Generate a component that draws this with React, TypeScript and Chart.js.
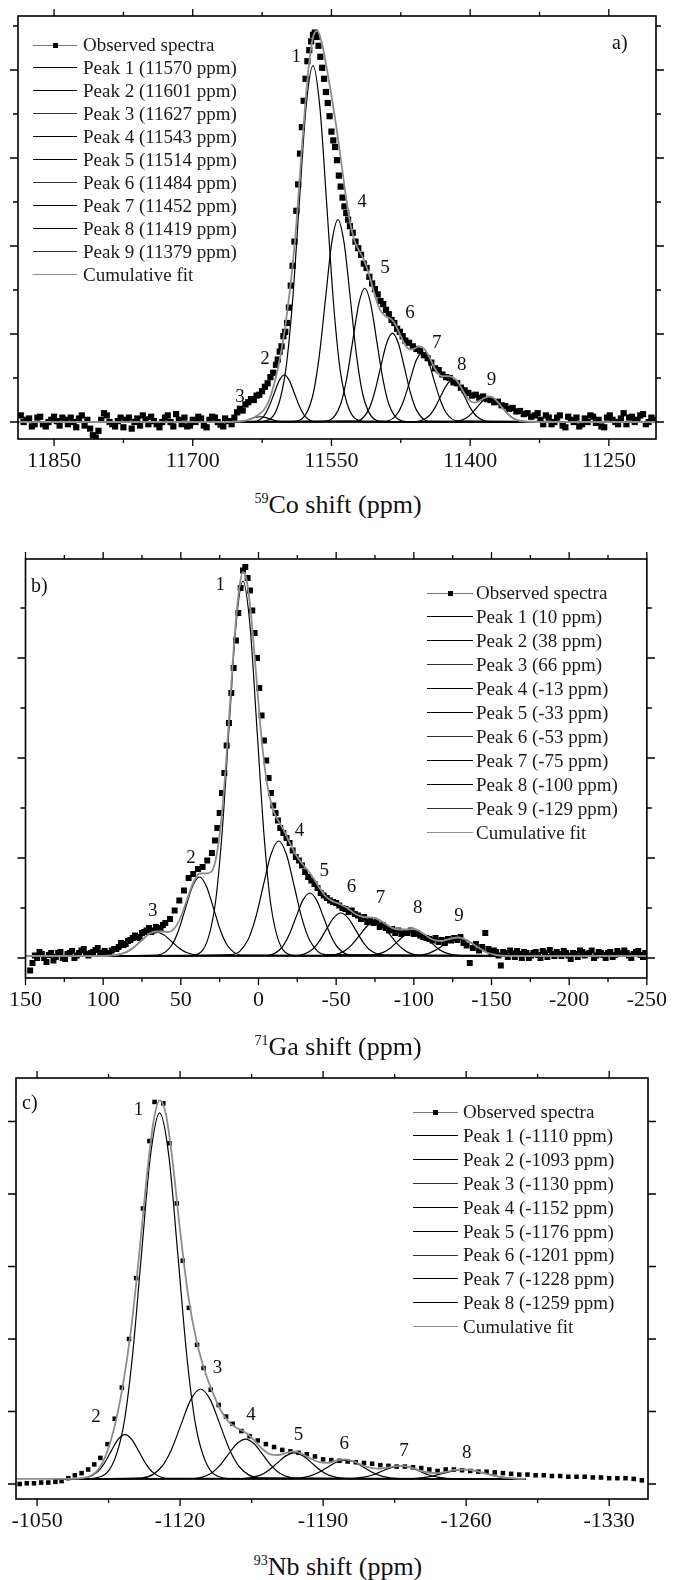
import React, { useEffect, useRef } from "react";
import { Chart, registerables } from "chart.js";

Chart.register(...registerables);

type Pt = [number, number];
type Lbl = [string, number, number];
const SERIF = '"Liberation Serif", "Times New Roman", "DejaVu Serif", serif';

// ===================== Panel a (59Co) =====================
const xTicksA = [11850, 11700, 11550, 11400, 11250];
const xMinorA = [11775, 11625, 11475, 11325];
const yMajorA = [0, 2, 4, 6, 8];
const yMinorA = [1, 3, 5, 7, 9];
const peakPpmA = [11570, 11601, 11627, 11543, 11514, 11484, 11452, 11419, 11379];
const fitRangeA: Pt = [11199, 11889];

const observedA: Pt[] = [
  [11886,0.15],[11880,0.05],[11874,-0.1],[11868,0.1],[11862,-0.05],[11856,0.0],[11850,0.12],[11844,-0.08],[11838,0.05],[11832,0.1],
  [11826,-0.12],[11820,0.15],[11814,0.05],[11808,-0.3],[11802,-0.2],[11796,0.2],[11790,0.0],[11784,-0.1],[11778,0.1],[11772,0.05],
  [11766,-0.15],[11760,0.08],[11754,0.15],[11748,-0.05],[11742,0.02],[11736,-0.12],[11730,0.1],[11724,0.0],[11718,0.18],[11712,-0.05],
  [11706,-0.1],[11700,0.05],[11694,0.12],[11688,-0.08],[11682,0.05],[11676,0.1],[11670,-0.06],[11665,0.08],
  [11883,0.0],[11877,0.08],[11871,-0.05],[11865,0.12],[11859,-0.1],[11853,0.05],[11847,0.02],[11841,0.1],[11835,-0.05],[11829,0.0],
  [11823,0.08],[11817,-0.08],[11811,-0.15],[11805,-0.35],[11799,0.05],[11793,0.15],[11787,-0.05],[11781,0.02],[11775,-0.12],[11769,0.1],
  [11763,0.0],[11757,-0.08],[11751,0.06],[11745,0.12],[11739,-0.05],[11733,0.0],[11727,0.15],[11721,-0.1],[11715,0.05],[11709,0.1],
  [11703,-0.08],[11697,0.0],[11691,0.08],[11685,-0.12],[11679,0.12],[11673,0.0],[11667,-0.1],
  [11661,0.02],[11658,-0.05],[11655,0.1],[11652,0.22],[11649,0.3],[11646,0.26],[11643,0.4],[11640,0.45],[11637,0.52],[11634,0.5],
  [11631,0.6],[11628,0.62],[11625,0.7],[11622,0.8],[11619,0.88],[11616,1.02],[11613,1.12],[11610,1.3],[11608,1.42],[11606,1.6],
  [11604,1.72],[11602,1.95],[11600,2.05],[11598,2.25],[11596,2.6],[11594,3.1],[11592,3.55],[11590,4.1],[11588,4.8],[11586,5.4],
  [11584,6.1],[11582,6.7],[11580,7.3],[11578,7.8],[11576,8.2],[11574,8.45],[11572,8.65],[11570,8.8],[11568,8.85],[11566,8.75],
  [11564,8.55],[11562,8.3],[11560,8.05],[11558,7.8],[11556,7.5],[11554,7.25],[11552,6.95],[11550,6.6],[11548,6.4],[11546,6.25],
  [11544,5.95],[11542,5.6],[11540,5.35],[11538,5.1],[11536,4.9],[11534,4.75],[11532,4.6],[11530,4.45],
  [11527,4.3],[11524,4.1],[11521,3.95],[11518,3.8],[11515,3.6],[11512,3.5],[11509,3.3],[11506,3.15],[11503,3.02],[11500,2.9],
  [11497,2.75],[11494,2.68],[11491,2.55],[11488,2.45],[11485,2.32],[11482,2.25],[11479,2.12],[11476,2.05],[11473,1.95],[11470,1.85],
  [11466,1.8],[11462,1.72],[11458,1.66],[11454,1.62],[11450,1.52],[11446,1.45],[11442,1.35],[11438,1.22],[11434,1.18],[11430,1.08],
  [11426,1.02],[11422,1.0],[11418,0.9],[11414,0.88],[11410,0.78],[11406,0.72],[11402,0.66],[11398,0.6],[11394,0.62],[11390,0.55],
  [11386,0.58],[11382,0.52],[11378,0.5],[11374,0.45],[11370,0.46],[11366,0.38],[11362,0.36],[11358,0.3],[11354,0.32],[11350,0.24],
  [11346,0.25],[11342,0.18],[11338,0.2],[11334,0.12],[11330,0.15],
  [11324,0.05],[11318,0.15],[11312,-0.05],[11306,0.1],[11300,-0.08],[11294,0.12],[11288,0.0],[11282,-0.1],[11276,0.08],[11270,0.15],
  [11264,-0.02],[11258,-0.1],[11252,0.1],[11246,0.05],[11240,-0.05],[11234,0.2],[11228,0.1],[11222,0.0],[11216,0.15],[11210,-0.05],[11204,0.1],
  [11327,0.2],[11321,-0.05],[11315,0.1],[11309,0.0],[11303,0.15],[11297,-0.12],[11291,0.05],[11285,0.1],[11279,-0.05],[11273,0.0],
  [11267,0.12],[11261,0.05],[11255,-0.12],[11249,0.15],[11243,0.0],[11237,0.08],[11231,-0.05],[11225,0.12],[11219,0.05],[11213,0.18],
  [11207,0.0],[11201,0.05],
];

const cumulativeA: Pt[] = [
  [11889,0],[11680,0],[11660,0],[11650,0.01],[11640,0.05],[11630,0.15],[11620,0.37],[11610,1.03],[11600,2.17],[11590,3.99],
  [11580,6.77],[11575,8.0],[11570,8.74],[11565,8.89],[11560,8.58],[11555,8.03],[11550,7.42],[11545,6.75],[11540,6.0],[11535,5.22],
  [11530,4.55],[11525,4.12],[11520,3.89],[11515,3.69],[11510,3.4],[11505,3.03],[11500,2.68],[11495,2.47],[11490,2.39],[11485,2.33],
  [11480,2.18],[11475,1.95],[11470,1.74],[11465,1.65],[11460,1.67],[11455,1.72],[11450,1.67],[11445,1.51],[11440,1.29],[11435,1.11],
  [11430,1.04],[11425,1.04],[11420,1.03],[11415,0.95],[11410,0.79],[11405,0.61],[11400,0.48],[11395,0.44],[11390,0.48],[11385,0.54],
  [11380,0.58],[11375,0.55],[11370,0.45],[11365,0.32],[11360,0.2],[11355,0.1],[11350,0.05],[11340,0.01],[11330,0],[11199,0],
];

const peak1A: Pt[] = [[11510,0],[11525,0.09],[11540,1.1],[11547.5,2.63],[11555,4.91],[11562.5,7.15],[11570,8.1],[11577.5,7.15],[11585,4.91],[11592.5,2.63],[11600,1.1],[11615,0.09],[11630,0]];
const peak2A: Pt[] = [[11568,0.01],[11579,0.14],[11584.5,0.35],[11590,0.65],[11595.5,0.94],[11601,1.07],[11606.5,0.94],[11612,0.65],[11617.5,0.35],[11623,0.14],[11634,0.01]];
const peak3A: Pt[] = [[11597,0],[11607,0.016],[11612,0.039],[11617,0.073],[11622,0.106],[11627,0.12],[11632,0.106],[11637,0.073],[11642,0.039],[11647,0.016],[11657,0]];
const peak4A: Pt[] = [[11489,0],[11502.5,0.05],[11516,0.62],[11522.75,1.49],[11529.5,2.79],[11536.25,4.06],[11543,4.6],[11549.75,4.06],[11556.5,2.79],[11563.25,1.49],[11570,0.62],[11583.5,0.05],[11597,0]];
const peak5A: Pt[] = [[11462,0],[11475,0.03],[11488,0.41],[11494.5,0.99],[11501,1.84],[11507.5,2.68],[11514,3.04],[11520.5,2.68],[11527,1.84],[11533.5,0.99],[11540,0.41],[11553,0.03],[11566,0]];
const peak6A: Pt[] = [[11445,0.02],[11458,0.27],[11464.5,0.66],[11471,1.23],[11477.5,1.78],[11484,2.02],[11490.5,1.78],[11497,1.23],[11503.5,0.66],[11510,0.27],[11523,0.02]];
const peak7A: Pt[] = [[11413,0.02],[11426,0.21],[11432.5,0.51],[11439,0.95],[11445.5,1.39],[11452,1.57],[11458.5,1.39],[11465,0.95],[11471.5,0.51],[11478,0.21],[11491,0.02]];
const peak8A: Pt[] = [[11380,0.01],[11393,0.13],[11399.5,0.31],[11406,0.58],[11412.5,0.84],[11419,0.95],[11425.5,0.84],[11432,0.58],[11438.5,0.31],[11445,0.13],[11458,0.01]];
const peak9A: Pt[] = [[11340,0.01],[11353,0.08],[11359.5,0.19],[11366,0.35],[11372.5,0.5],[11379,0.57],[11385.5,0.5],[11392,0.35],[11398.5,0.19],[11405,0.08],[11418,0.01]];

const peakLabelsA: Lbl[] = [["1",11588,8.3],["2",11622,1.43],["3",11649,0.57],["4",11517,5.0],["5",11492,3.5],["6",11465,2.47],["7",11436,1.8],["8",11409,1.3],["9",11377,0.95]];

// ===================== Panel b (71Ga) =====================
const xTicksB = [150, 100, 50, 0, -50, -100, -150, -200, -250];
const xMinorB = [125, 75, 25, -25, -75, -125, -175, -225];
const yMajorB = [0, 2, 4, 6];
const yMinorB = [1, 3, 5, 7];
const peakPpmB = [10, 38, 66, -13, -33, -53, -75, -100, -129];
const fitRangeB: Pt = [-250, 150];
const baseB = 0.04;

const observedB: Pt[] = [
  [149,-0.45],[147,-0.25],[144,0.05],[141,0.12],[138,0.0],[135,0.06],[132,-0.05],[129,0.1],[126,0.0],[123,0.08],
  [120,0.14],[117,0.05],[114,0.15],[111,0.08],[108,0.1],[105,0.16],[102,0.08],[99,0.14],[96,0.1],[93,0.18],
  [145.5,-0.1],[142.5,0.0],[139.5,0.08],[136.5,-0.08],[133.5,0.1],[130.5,0.02],[127.5,0.12],[124.5,-0.02],[121.5,0.1],[118.5,0.0],
  [115.5,0.1],[112.5,0.18],[109.5,0.05],[106.5,0.12],[103.5,0.2],[100.5,0.1],[97.5,0.08],[94.5,0.15],[91.5,0.18],[88.5,0.3],
  [85.5,0.28],[82.5,0.36],[79.5,0.45],[76.5,0.4],[73.5,0.52],[70.5,0.6],[67.5,0.55],[64.5,0.58],[61.5,0.66],
  [90,0.22],[87,0.26],[84,0.34],[81,0.4],[78,0.42],[75,0.5],[72,0.55],[69,0.52],[66,0.62],[63,0.6],
  [60,0.7],[57,0.78],[54,0.95],[51,1.15],[48,1.35],[45,1.6],[42,1.68],[39,1.78],[36,1.82],[33,1.95],[30,2.1],
  [28,2.35],[26.5,2.6],[25,2.9],[23.5,3.3],[22,3.7],[20.5,4.25],[19,4.7],[17.5,5.3],[16,5.8],[14.5,6.35],
  [13,6.9],[11.5,7.4],[10,7.75],[8.5,7.82],[7,7.6],[5.5,7.35],[4,6.95],[2.5,6.5],[1,6.0],[-0.5,5.4],
  [-2,4.85],[-3.5,4.35],[-5,3.95],[-6.5,3.6],[-8,3.3],[-9.5,3.05],[-11,2.9],[-12.5,2.75],
  [-14,2.6],[-16,2.5],[-18,2.4],[-20,2.3],[-22,2.15],[-24,2.02],[-26,1.95],[-28,1.85],[-30,1.72],[-32,1.62],
  [-34,1.55],[-36,1.48],[-38,1.4],[-40,1.3],[-42,1.25],[-44,1.2],[-46,1.15],[-48,1.12],[-50,1.1],[-52,1.05],
  [-54,1.0],[-56,0.98],[-58,0.92],[-60,0.95],[-62,0.88],[-64,0.85],[-66,0.78],[-68,0.82],[-70,0.72],[-72,0.75],
  [-74,0.7],[-76,0.72],[-78,0.62],[-80,0.66],[-82,0.6],[-84,0.55],[-86,0.58],[-88,0.5],[-90,0.55],[-92,0.48],
  [-94,0.52],[-96,0.5],[-98,0.55],[-100,0.48],[-102,0.5],[-104,0.45],[-106,0.42],[-108,0.4],[-110,0.38],[-112,0.35],
  [-114,0.4],[-116,0.32],[-118,0.36],[-120,0.3],[-122,0.38],[-124,0.35],[-126,0.4],[-128,0.36],[-130,0.42],[-132,0.3],
  [-134,0.25],[-136,-0.1],[-138,0.2],[-140,0.28],[-142,0.15],[-144,0.22],[-146,0.5],[-148,0.18],[-150,0.08],
  [-153,0.12],[-156,-0.15],[-159,0.1],[-162,0.15],[-165,0.02],[-168,0.08],[-171,0.12],[-174,0.0],[-177,0.1],[-180,0.06],
  [-183,0.14],[-186,0.02],[-189,0.08],[-192,0.12],[-195,0.04],[-198,0.1],[-201,-0.02],[-204,0.08],[-207,0.15],[-210,0.05],
  [-213,0.1],[-216,0.0],[-219,0.12],[-222,0.06],[-225,0.1],[-228,0.02],[-231,0.14],[-234,0.08],[-237,0.1],[-240,0.0],
  [-243,0.12],[-246,0.06],[-249,0.1],
  [-151.5,0.15],[-154.5,0.05],[-157.5,0.12],[-160.5,0.02],[-163.5,0.1],[-166.5,0.14],[-169.5,0.0],[-172.5,0.1],[-175.5,0.05],[-178.5,0.12],
  [-181.5,0.0],[-184.5,0.1],[-187.5,0.16],[-190.5,0.04],[-193.5,0.08],[-196.5,0.14],[-199.5,0.05],[-202.5,0.1],[-205.5,0.02],[-208.5,0.12],
  [-211.5,0.08],[-214.5,0.15],[-217.5,0.05],[-220.5,0.1],[-223.5,0.0],[-226.5,0.12],[-229.5,0.06],[-232.5,0.1],[-235.5,0.15],[-238.5,0.05],
  [-241.5,0.08],[-244.5,0.14],[-247.5,0.02],
];

const cumulativeB: Pt[] = [
  [150,0.04],[100,0.04],[95,0.05],[90,0.07],[85,0.12],[80,0.22],[75,0.36],[70,0.49],[66,0.53],[62,0.53],
  [58,0.52],[54,0.6],[50,0.82],[46,1.17],[42,1.51],[38,1.69],[34,1.69],[30,1.74],[27,2.05],[24,2.75],
  [21,3.86],[18,5.25],[15,6.58],[12,7.48],[10,7.72],[8,7.61],[5,6.93],[2,5.85],[-1,4.71],[-4,3.81],
  [-7,3.24],[-10,2.92],[-13,2.73],[-16,2.57],[-20,2.31],[-24,2.07],[-28,1.89],[-33,1.7],[-38,1.47],[-43,1.24],
  [-48,1.13],[-53,1.07],[-58,0.98],[-63,0.87],[-68,0.82],[-75,0.8],[-82,0.68],[-88,0.58],[-94,0.57],[-100,0.58],
  [-106,0.49],[-112,0.37],[-118,0.34],[-124,0.39],[-129,0.41],[-135,0.34],[-141,0.22],[-147,0.11],[-153,0.06],[-160,0.04],[-250,0.04],
];

const peak1B: Pt[] = [[-26,0.04],[-17,0.12],[-8,1.05],[-3.5,2.48],[1,4.59],[5.5,6.66],[10,7.54],[14.5,6.66],[19,4.59],[23.5,2.48],[28,1.05],[37,0.12],[46,0.04]];
const peak2B: Pt[] = [[11,0.06],[20,0.25],[24.5,0.55],[29,1.0],[33.5,1.43],[38,1.62],[42.5,1.43],[47,1.0],[51.5,0.55],[56,0.25],[65,0.06]];
const peak3B: Pt[] = [[36,0.045],[46,0.105],[51,0.196],[56,0.331],[61,0.464],[66,0.52],[71,0.464],[76,0.331],[81,0.196],[86,0.105],[96,0.045]];
const peak4B: Pt[] = [[-43,0.066],[-33,0.351],[-28,0.787],[-23,1.435],[-18,2.07],[-13,2.34],[-8,2.07],[-3,1.435],[2,0.787],[7,0.351],[17,0.066]];
const peak5B: Pt[] = [[-60,0.054],[-51,0.21],[-46.5,0.449],[-42,0.804],[-37.5,1.152],[-33,1.3],[-28.5,1.152],[-24,0.804],[-19.5,0.449],[-15,0.21],[-6,0.054]];
const peak6B: Pt[] = [[-81.5,0.05],[-72,0.156],[-67.25,0.319],[-62.5,0.562],[-57.75,0.799],[-53,0.9],[-48.25,0.799],[-43.5,0.562],[-38.75,0.319],[-34,0.156],[-24.5,0.05]];
const peak7B: Pt[] = [[-105,0.048],[-95,0.132],[-90,0.261],[-85,0.452],[-80,0.64],[-75,0.72],[-70,0.64],[-65,0.452],[-60,0.261],[-55,0.132],[-45,0.048]];
const peak8B: Pt[] = [[-130,0.046],[-120,0.108],[-115,0.202],[-110,0.343],[-105,0.481],[-100,0.54],[-95,0.481],[-90,0.343],[-85,0.202],[-80,0.108],[-70,0.046]];
const peak9B: Pt[] = [[-159,0.044],[-149,0.089],[-144,0.157],[-139,0.258],[-134,0.358],[-129,0.4],[-124,0.358],[-119,0.258],[-114,0.157],[-109,0.089],[-99,0.044]];

const peakLabelsB: Lbl[] = [["1",24.7,7.46],["2",43.5,2.0],["3",68,0.93],["4",-26.4,2.53],["5",-42.3,1.73],["6",-59.8,1.42],["7",-78.5,1.2],["8",-102.5,1.0],["9",-129,0.83]];

// ===================== Panel c (93Nb) =====================
const xTicksC = [-1050, -1120, -1190, -1260, -1330];
const xMinorC = [-1085, -1155, -1225, -1295];
const yMajorC = [0, 1, 2, 3, 4, 5];
const yMinorC: number[] = [];
const peakPpmC = [-1110, -1093, -1130, -1152, -1176, -1201, -1228, -1259];
const fitRangeC: Pt = [-1289, -1058];
const baseC = 0.07;

const observedC: Pt[] = [
  [-1041.5,0.0],[-1045,0.01],[-1048.5,0.01],[-1052,0.02],[-1055.5,0.02],[-1059,0.03],[-1062,0.04],[-1065.3,0.08],[-1068.5,0.12],[-1071.8,0.15],
  [-1075,0.2],[-1078,0.27],[-1081,0.36],[-1084.5,0.55],[-1088,0.9],[-1091.5,1.33],[-1095,2.0],[-1098.5,2.84],[-1101.8,3.8],[-1105,4.73],
  [-1107.5,5.27],[-1111.8,5.25],[-1114.8,4.7],[-1118.4,3.87],[-1121.3,3.08],[-1124.3,2.43],[-1128.3,1.92],[-1131.5,1.6],[-1135,1.3],[-1138.9,1.09],
  [-1142.5,0.93],[-1145.7,0.83],[-1150,0.73],[-1154,0.66],[-1158,0.6],[-1162,0.55],[-1166,0.51],[-1170,0.47],[-1174,0.45],[-1178,0.43],
  [-1182,0.41],[-1186,0.38],[-1190,0.34],[-1194,0.33],[-1198,0.32],[-1202,0.31],[-1206,0.3],[-1210,0.29],[-1214,0.28],[-1218,0.26],
  [-1222,0.25],[-1226,0.24],[-1230,0.24],[-1234,0.23],[-1238,0.22],[-1242,0.2],[-1246,0.18],[-1250,0.2],[-1254,0.2],[-1258,0.19],
  [-1262,0.18],[-1266,0.17],[-1270,0.17],[-1274,0.16],[-1278,0.15],[-1282,0.14],[-1286,0.13],[-1290,0.13],[-1294,0.12],[-1298,0.12],
  [-1302,0.11],[-1306,0.11],[-1310,0.1],[-1314,0.1],[-1318,0.1],[-1322,0.09],[-1326,0.09],[-1330,0.08],[-1334,0.08],[-1338,0.08],
  [-1342,0.07],[-1346,0.05],
];

const cumulativeC: Pt[] = [
  [-1040,0.07],[-1060,0.07],[-1068,0.07],[-1072,0.08],[-1076,0.11],[-1080,0.2],[-1084,0.42],[-1088,0.8],[-1092,1.36],[-1096,2.13],
  [-1100,3.17],[-1104,4.32],[-1107,5.0],[-1110,5.29],[-1113,5.11],[-1116,4.53],[-1120,3.5],[-1124,2.59],[-1128,1.98],[-1132,1.57],
  [-1136,1.26],[-1140,1.01],[-1144,0.85],[-1148,0.77],[-1152,0.71],[-1156,0.61],[-1160,0.49],[-1164,0.41],[-1168,0.4],[-1172,0.43],
  [-1176,0.45],[-1180,0.41],[-1184,0.35],[-1188,0.3],[-1192,0.29],[-1196,0.32],[-1201,0.34],[-1206,0.3],[-1210,0.25],[-1214,0.22],
  [-1218,0.21],[-1222,0.23],[-1228,0.25],[-1234,0.22],[-1238,0.18],[-1242,0.155],[-1246,0.15],[-1250,0.166],[-1254,0.19],[-1259,0.2],
  [-1264,0.185],[-1268,0.157],[-1272,0.126],[-1276,0.1],[-1280,0.084],[-1284,0.076],[-1289,0.071],
];

const peak1C: Pt[] = [[-1146,0.07],[-1137,0.126],[-1128,0.753],[-1123.5,1.71],[-1119,3.133],[-1114.5,4.527],[-1110,5.12],[-1105.5,4.527],[-1101,3.133],[-1096.5,1.71],[-1092,0.753],[-1083,0.126],[-1074,0.07]];
const peak2C: Pt[] = [[-1114,0.077],[-1107,0.153],[-1103.5,0.268],[-1100,0.44],[-1096.5,0.608],[-1093,0.68],[-1089.5,0.608],[-1086,0.44],[-1082.5,0.268],[-1079,0.153],[-1072,0.077]];
const peak3C: Pt[] = [[-1158.5,0.084],[-1149,0.238],[-1144.25,0.473],[-1139.5,0.822],[-1134.75,1.164],[-1130,1.31],[-1125.25,1.164],[-1120.5,0.822],[-1115.75,0.473],[-1111,0.238],[-1101.5,0.084]];
const peak4C: Pt[] = [[-1177.5,0.076],[-1169,0.144],[-1164.75,0.249],[-1160.5,0.404],[-1156.25,0.555],[-1152,0.62],[-1147.75,0.555],[-1143.5,0.404],[-1139.25,0.249],[-1135,0.144],[-1126.5,0.076]];
const peak5C: Pt[] = [[-1201.5,0.074],[-1193,0.119],[-1188.75,0.187],[-1184.5,0.288],[-1180.25,0.388],[-1176,0.43],[-1171.75,0.388],[-1167.5,0.288],[-1163.25,0.187],[-1159,0.119],[-1150.5,0.074]];
const peak6C: Pt[] = [[-1228,0.073],[-1219,0.105],[-1214.5,0.154],[-1210,0.228],[-1205.5,0.299],[-1201,0.33],[-1196.5,0.299],[-1192,0.228],[-1187.5,0.154],[-1183,0.105],[-1174,0.073]];
const peak7C: Pt[] = [[-1255,0.072],[-1246,0.094],[-1241.5,0.128],[-1237,0.179],[-1232.5,0.229],[-1228,0.25],[-1223.5,0.229],[-1219,0.179],[-1214.5,0.128],[-1210,0.094],[-1201,0.072]];
const peak8C: Pt[] = [[-1289,0.071],[-1279,0.088],[-1274,0.112],[-1269,0.149],[-1264,0.185],[-1259,0.2],[-1254,0.185],[-1249,0.149],[-1244,0.112],[-1239,0.088],[-1229,0.071]];

const peakLabelsC: Lbl[] = [["1",-1099.6,5.16],["2",-1078.9,0.93],["3",-1138.3,1.6],["4",-1154.7,0.95],["5",-1178,0.68],["6",-1200.3,0.55],["7",-1229.6,0.45],["8",-1260.3,0.43]];

// ===================== Panel configuration (layout) =====================
interface PanelCfg {
  id: string;
  canvasTop: number;
  canvasHeight: number;
  pad: { left: number; right: number; top: number; bottom: number };
  xMin: number; xMax: number; yMin: number; yMax: number;
  xTicks: number[]; xMinor: number[]; yMajor: number[]; yMinor: number[];
  observed: Pt[]; cumulative: Pt[]; peaks: Pt[][]; fitRange: Pt; base: number;
  pointRadius: number; labels: Lbl[];
}

const panels: PanelCfg[] = [
  {
    id: "a", canvasTop: 0, canvasHeight: 480,
    pad: { left: 18, right: 20, top: 16, bottom: 11 },
    xMin: 11199, xMax: 11889, yMin: -0.386, yMax: 9.227,
    xTicks: xTicksA, xMinor: xMinorA, yMajor: yMajorA, yMinor: yMinorA,
    observed: observedA, cumulative: cumulativeA,
    peaks: [peak1A, peak2A, peak3A, peak4A, peak5A, peak6A, peak7A, peak8A, peak9A],
    fitRange: fitRangeA, base: 0, pointRadius: 4.4, labels: peakLabelsA,
  },
  {
    id: "b", canvasTop: 540, canvasHeight: 480,
    pad: { left: 20, right: 23, top: 19, bottom: 12 },
    xMin: -250, xMax: 150, yMin: -0.4, yMax: 7.98,
    xTicks: xTicksB, xMinor: xMinorB, yMajor: yMajorB, yMinor: yMinorB,
    observed: observedB, cumulative: cumulativeB,
    peaks: [peak1B, peak2B, peak3B, peak4B, peak5B, peak6B, peak7B, peak8B, peak9B],
    fitRange: fitRangeB, base: baseB, pointRadius: 4.2, labels: peakLabelsB,
  },
  {
    id: "c", canvasTop: 1060, canvasHeight: 480,
    pad: { left: 16, right: 28, top: 18, bottom: 11 },
    xMin: -1349, xMax: -1039.7, yMin: -0.207, yMax: 5.6,
    xTicks: xTicksC, xMinor: xMinorC, yMajor: yMajorC, yMinor: yMinorC,
    observed: observedC, cumulative: cumulativeC,
    peaks: [peak1C, peak2C, peak3C, peak4C, peak5C, peak6C, peak7C, peak8C],
    fitRange: fitRangeC, base: baseC, pointRadius: 3.2, labels: peakLabelsC,
  },
];

function toXY(arr: Pt[]) {
  return arr.slice().sort((p, q) => q[0] - p[0]).map(([x, y]) => ({ x, y }));
}

function makeFramePlugin(cfg: PanelCfg) {
  return {
    id: "frameTicks" + cfg.id,
    afterDraw(chart: any) {
      const { ctx, chartArea, scales } = chart;
      const { left, right, top, bottom } = chartArea;
      const xs = scales.x;
      const ys = scales.y;
      ctx.save();
      ctx.strokeStyle = "#000";
      ctx.lineWidth = 1.3;
      ctx.beginPath();
      const vt = (v: number, len: number) => {
        const px = xs.getPixelForValue(v);
        ctx.moveTo(px, bottom); ctx.lineTo(px, bottom + len);
        ctx.moveTo(px, top); ctx.lineTo(px, top - len);
      };
      const ht = (v: number, len: number) => {
        const py = ys.getPixelForValue(v);
        ctx.moveTo(left, py); ctx.lineTo(left - len, py);
        ctx.moveTo(right, py); ctx.lineTo(right + len, py);
      };
      cfg.xTicks.forEach((v) => vt(v, 7));
      cfg.xMinor.forEach((v) => vt(v, 4));
      cfg.yMajor.forEach((v) => ht(v, 8));
      cfg.yMinor.forEach((v) => ht(v, 5));
      ctx.stroke();
      ctx.lineWidth = 1.6;
      ctx.strokeRect(left, top, right - left, bottom - top);
      ctx.fillStyle = "#111";
      ctx.font = `19px ${SERIF}`;
      ctx.textAlign = "center";
      ctx.textBaseline = "middle";
      cfg.labels.forEach(([t, x, y]) => ctx.fillText(t, xs.getPixelForValue(x), ys.getPixelForValue(y)));
      ctx.restore();
    },
  };
}

function SpectrumPanel({ cfg }: { cfg: PanelCfg }) {
  const ref = useRef<HTMLCanvasElement | null>(null);
  useEffect(() => {
    const canvas = ref.current;
    if (!canvas) return;
    const datasets: any[] = [];
    datasets.push({
      label: "Cumulative fit",
      data: toXY(cfg.cumulative),
      borderColor: "#8d8d8d",
      borderWidth: 1.8,
      pointRadius: 0,
      cubicInterpolationMode: "monotone",
      fill: false,
      order: 0,
    });
    datasets.push({
      label: "Observed spectra",
      data: toXY(cfg.observed),
      showLine: false,
      pointStyle: "rect",
      pointRadius: cfg.pointRadius,
      pointBackgroundColor: "#000",
      pointBorderColor: "#000",
      pointBorderWidth: 0,
      order: 1,
    });
    cfg.peaks.forEach((p, i) => {
      datasets.push({
        label: `Peak ${i + 1}`,
        data: toXY([[cfg.fitRange[0], cfg.base], ...p, [cfg.fitRange[1], cfg.base]]),
        borderColor: "#000",
        borderWidth: 1.2,
        pointRadius: 0,
        cubicInterpolationMode: "monotone",
        fill: false,
        order: 2 + i,
      });
    });
    const chart = new Chart(canvas, {
      type: "line",
      data: { datasets },
      options: {
        responsive: false,
        animation: false,
        devicePixelRatio: 1,
        layout: { padding: cfg.pad, autoPadding: false } as any,
        plugins: { legend: { display: false }, tooltip: { enabled: false } },
        scales: {
          x: {
            type: "linear",
            reverse: true,
            min: cfg.xMin,
            max: cfg.xMax,
            grid: { display: false, drawTicks: false },
            border: { display: false },
            afterBuildTicks: (s: any) => { s.ticks = cfg.xTicks.map((v) => ({ value: v })); },
            afterFit: (s: any) => { s.height = 30; },
            ticks: {
              autoSkip: false,
              maxRotation: 0,
              padding: 9,
              color: "#111",
              font: { family: SERIF, size: 22 },
              callback: (v: any) => String(v),
            },
          },
          y: {
            type: "linear",
            display: false,
            min: cfg.yMin,
            max: cfg.yMax,
          },
        },
      } as any,
      plugins: [makeFramePlugin(cfg)],
    });
    return () => chart.destroy();
  }, [cfg]);
  return (
    <canvas
      ref={ref}
      width={676}
      height={cfg.canvasHeight}
      style={{ position: "absolute", left: 0, top: cfg.canvasTop, width: 676, height: cfg.canvasHeight, display: "block" }}
    />
  );
}

interface LegendItem { t: string; color: string; w: number; marker?: boolean }

function buildLegend(ppm: number[]): LegendItem[] {
  const items: LegendItem[] = [{ t: "Observed spectra", color: "#777", w: 1, marker: true }];
  ppm.forEach((c, i) => items.push({ t: `Peak ${i + 1} (${c} ppm)`, color: i % 3 === 2 ? "#333" : "#000", w: i % 3 === 2 ? 1.2 : 1.8 }));
  items.push({ t: "Cumulative fit", color: "#8d8d8d", w: 1.6 });
  return items;
}

function Legend({ x0, x1, tx, y0, pitch, items }: { x0: number; x1: number; tx: number; y0: number; pitch: number; items: LegendItem[] }) {
  return (
    <>
      {items.map((it, i) => {
        const cy = y0 + i * pitch;
        return (
          <React.Fragment key={i}>
            <div style={{ position: "absolute", left: x0, top: cy - it.w / 2, width: x1 - x0, height: 0, borderTop: `${it.w}px solid ${it.color}` }} />
            {it.marker && (
              <div style={{ position: "absolute", left: (x0 + x1) / 2 - 2.5, top: cy - 2.5, width: 5, height: 5, background: "#000" }} />
            )}
            <div style={{ position: "absolute", left: tx, top: cy - 12, lineHeight: "24px", fontSize: 19, fontFamily: SERIF, color: "#1a1a1a", whiteSpace: "nowrap" }}>
              {it.t}
            </div>
          </React.Fragment>
        );
      })}
    </>
  );
}

function AxisTitle({ top, iso, el }: { top: number; iso: string; el: string }) {
  return (
    <div style={{ position: "absolute", left: 0, width: 676, top, textAlign: "center", fontFamily: SERIF, fontSize: 26, lineHeight: "30px", color: "#111" }}>
      <sup style={{ fontSize: 14, lineHeight: 0, verticalAlign: "10px" }}>{iso}</sup>
      {el} shift (ppm)
    </div>
  );
}

export default function App() {
  return (
    <div style={{ position: "absolute", left: 0, top: 0, width: 676, height: 1580, background: "#fff" }}>
      {panels.map((p) => (
        <SpectrumPanel key={p.id} cfg={p} />
      ))}
      <Legend x0={33} x1={77} tx={83} y0={45} pitch={23} items={buildLegend(peakPpmA)} />
      <Legend x0={427} x1={473} tx={476} y0={593} pitch={24} items={buildLegend(peakPpmB)} />
      <Legend x0={413} x1={458} tx={463} y0={1112} pitch={23.9} items={buildLegend(peakPpmC)} />
      <div style={{ position: "absolute", left: 612, top: 29, fontFamily: SERIF, fontSize: 20, lineHeight: "26px", color: "#111" }}>a)</div>
      <div style={{ position: "absolute", left: 31, top: 572, fontFamily: SERIF, fontSize: 20, lineHeight: "26px", color: "#111" }}>b)</div>
      <div style={{ position: "absolute", left: 22, top: 1089, fontFamily: SERIF, fontSize: 20, lineHeight: "26px", color: "#111" }}>c)</div>
      <AxisTitle top={490} iso="59" el="Co" />
      <AxisTitle top={1032} iso="71" el="Ga" />
      <AxisTitle top={1552} iso="93" el="Nb" />
    </div>
  );
}
